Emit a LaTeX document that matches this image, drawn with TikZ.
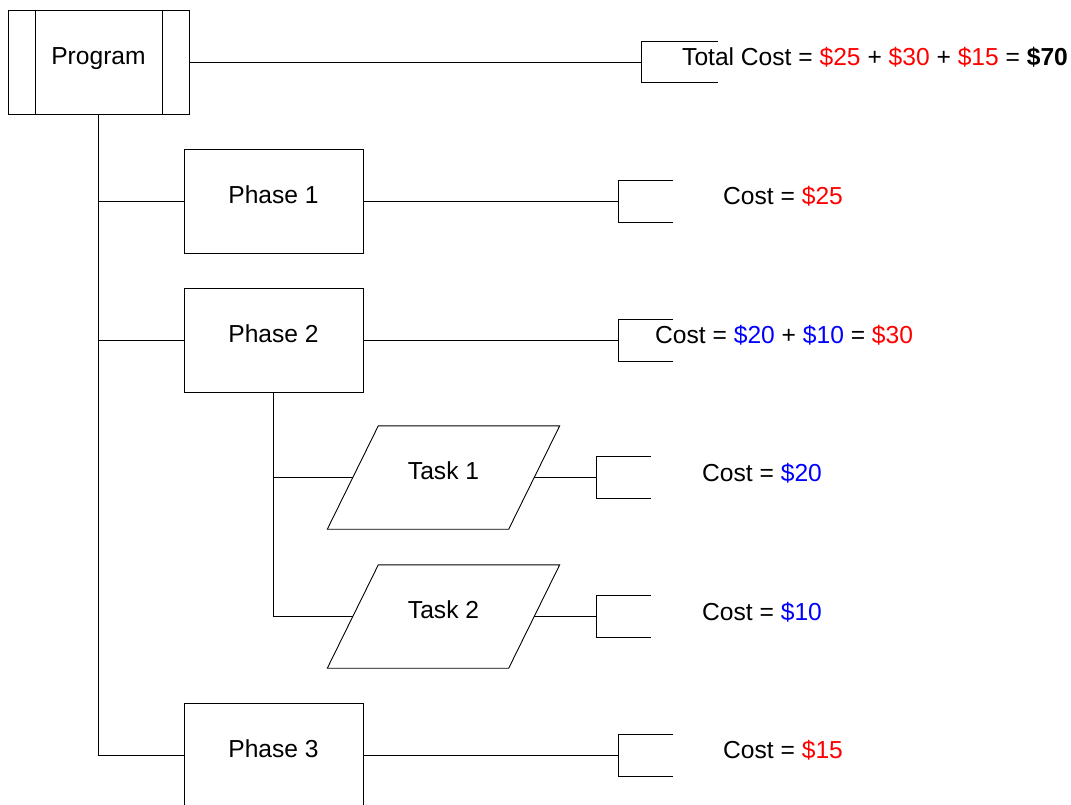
\documentclass[tikz,border=0pt]{standalone}
\usepackage{fontspec}
\setmainfont{Liberation Sans}
\definecolor{cred}{RGB}{255,0,0}
\definecolor{cblue}{RGB}{0,0,255}
\tikzset{
  ln/.style={draw=black, line width=0.9pt},
  boxnode/.style={ln, fill=white, rectangle, inner sep=0pt, minimum width=179pt, minimum height=104pt,
    font=\fontsize{24.6}{29}\selectfont, text height=17.5pt, text depth=13pt},
  tasknode/.style={rectangle, inner sep=0pt, minimum width=181pt, minimum height=103pt,
    font=\fontsize{24.6}{29}\selectfont, text height=17.5pt, text depth=13pt},
  costtxt/.style={anchor=base west, inner sep=0pt, font=\fontsize{24.6}{29}\selectfont},
}
\newcommand{\rd}[1]{\textcolor{cred}{#1}}
\newcommand{\bl}[1]{\textcolor{cblue}{#1}}
\begin{document}
\begin{tikzpicture}[x=1pt,y=-1pt]
\clip (0,0) rectangle (1071,804);
\fill[white] (0,0) rectangle (1071,804);

% Program
\node[boxnode, minimum width=181pt] (program) at (98.5,62) {Program};
\draw[ln] ([xshift=27.5pt]program.north west) -- ([xshift=27.5pt]program.south west);
\draw[ln] ([xshift=-27.5pt]program.north east) -- ([xshift=-27.5pt]program.south east);

% Phases
\node[boxnode] (phase1) at (273.5,201) {Phase 1};
\node[boxnode] (phase2) at (273.5,340) {Phase 2};
\node[boxnode] (phase3) at (273.5,755) {Phase 3};

% Tasks
\node[tasknode] (task1) at (443.5,477.5) {Task 1};
\node[tasknode] (task2) at (443.5,616.5) {Task 2};
\foreach \t in {task1,task2}{
  \draw[ln] ([xshift=25.5pt]\t.north west) -- ([xshift=25.5pt]\t.north east)
    -- ([xshift=-25.5pt]\t.south east) -- ([xshift=-25.5pt]\t.south west) -- cycle;
}

% Bracket anchors
\coordinate (b0) at (641,62);
\coordinate (b1) at (618,201);
\coordinate (b2) at (618,340);
\coordinate (b3) at (596,477.5);
\coordinate (b4) at (596,616.5);
\coordinate (b5) at (618,755);

% Trunk and branches
\draw[ln] (program.south) |- (phase3.west);
\draw[ln] (program.south |- phase1.west) -- (phase1.west);
\draw[ln] (program.south |- phase2.west) -- (phase2.west);
\draw[ln] (phase2.south) |- (task2.west);
\draw[ln] (phase2.south |- task1.west) -- (task1.west);

% Connectors to brackets
\draw[ln] (program.east) -- (b0);
\draw[ln] (phase1.east) -- (b1);
\draw[ln] (phase2.east) -- (b2);
\draw[ln] (task1.east) -- (b3);
\draw[ln] (task2.east) -- (b4);
\draw[ln] (phase3.east) -- (b5);

% Brackets
\draw[ln] ([shift={(77,-20.5)}]b0) -- ([shift={(0,-20.5)}]b0) -- ([shift={(0,20.5)}]b0) -- ([shift={(77,20.5)}]b0);
\foreach \b in {b1,b2,b3,b4,b5}{
  \draw[ln] ([shift={(55,-21)}]\b) -- ([shift={(0,-21)}]\b) -- ([shift={(0,21)}]\b) -- ([shift={(55,21)}]\b);
}

% Cost texts
\node[costtxt] (c0) at (682,65) {Total Cost = \rd{\$25} + \rd{\$30} + \rd{\$15} = \textbf{\$70}};
\node[costtxt] (c1) at (723,204) {Cost = \rd{\$25}};
\node[costtxt] (c2) at (655,343) {Cost = \bl{\$20} + \bl{\$10} = \rd{\$30}};
\node[costtxt] (c3) at (702,481) {Cost = \bl{\$20}};
\node[costtxt] (c4) at (702,620) {Cost = \bl{\$10}};
\node[costtxt] (c5) at (723,758) {Cost = \rd{\$15}};
\end{tikzpicture}
\end{document}
